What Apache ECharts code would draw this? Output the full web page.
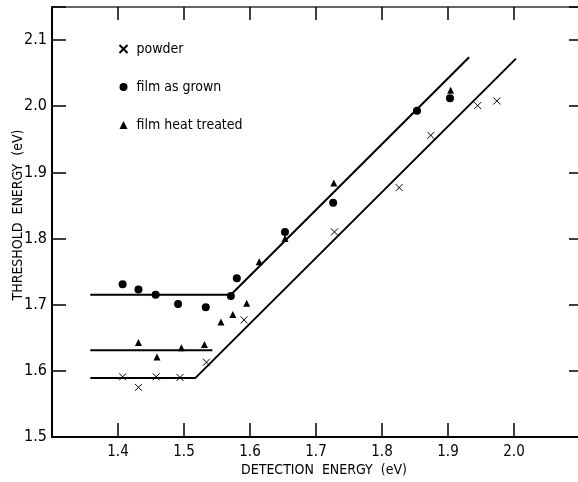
<!DOCTYPE html>
<html>
<head>
<meta charset="UTF-8">
<script src="https://cdn.jsdelivr.net/npm/echarts@6/dist/echarts.min.js"></script>
<style>
  html, body { margin: 0; padding: 0; background: #fff; }
  #chart { width: 578px; height: 482px; }
</style>
</head>
<body>
<div id="chart"></div>
<script>
// data (eV)
var powderX = [1.407, 1.431, 1.458, 1.494, 1.534, 1.591, 1.728, 1.826, 1.874, 1.945, 1.974];
var powderY = [1.591, 1.575, 1.591, 1.590, 1.613, 1.677, 1.810, 1.877, 1.956, 2.001, 2.008];

var grownX = [1.407, 1.431, 1.457, 1.491, 1.533, 1.571, 1.580, 1.653, 1.726, 1.853, 1.903];
var grownY = [1.731, 1.723, 1.715, 1.701, 1.696, 1.713, 1.740, 1.810, 1.854, 1.993, 2.012];

var heatX = [1.431, 1.459, 1.496, 1.531, 1.556, 1.574, 1.595, 1.614, 1.653, 1.727, 1.904];
var heatY = [1.643, 1.621, 1.635, 1.640, 1.674, 1.685, 1.702, 1.765, 1.800, 1.884, 2.024];

// fitted lines (break points)
var powderFitX = [1.358, 1.517, 2.003];
var powderFitY = [1.589, 1.589, 2.072];
var grownFitX = [1.358, 1.571, 1.932];
var grownFitY = [1.715, 1.715, 2.074];
var heatFitX = [1.358, 1.543];
var heatFitY = [1.631, 1.631];

function pairs(xs, ys) {
    return xs.map(function (x, i) { return [x, ys[i]]; });
}

var FONT = "'Liberation Sans Narrow', 'DejaVu Sans Condensed', sans-serif";
var crossPath = 'path://M0,0L10,10M10,0L0,10';

var lineStyle = { color: '#000', width: 2 };
function fit(xs, ys) {
    return {
        type: 'line', data: pairs(xs, ys), symbol: 'none',
        lineStyle: lineStyle, silent: true, z: 1
    };
}

var option = {
    animation: false,
    backgroundColor: '#fff',
    grid: { left: 52, right: -2, top: 7, bottom: 45, outerBoundsMode: 'none', containLabel: false },
    legend: {
        orient: 'vertical', left: 112, top: 37, itemGap: 24,
        itemWidth: 8, itemHeight: 8,
        data: ['powder', 'film as grown', 'film heat treated'],
        textStyle: { fontFamily: FONT, fontSize: 14, color: '#000', padding: [0, 0, 0, 4] }
    },
    xAxis: [{
        type: 'value', min: 1.3, max: 2.1, interval: 0.1,
        name: 'DETECTION  ENERGY  (eV)', nameLocation: 'middle', nameGap: 26,
        nameMoveOverlap: false,
        nameTextStyle: { fontFamily: FONT, fontSize: 14, color: '#000', padding: [0, 0, 0, 16] },
        axisLine: { lineStyle: { color: '#000', width: 2 } },
        axisTick: { inside: true, length: 14, lineStyle: { color: '#000', width: 1.5 } },
        axisLabel: { fontFamily: FONT, fontSize: 15, color: '#000', margin: 8,
            showMinLabel: false, showMaxLabel: false,
            formatter: function (v) { return v.toFixed(1); } },
        splitLine: { show: false }
    }, {
        type: 'value', position: 'top', min: 1.3, max: 2.1, interval: 0.1,
        axisLine: { lineStyle: { color: '#333', width: 1.5 } },
        axisTick: { inside: true, length: 13, lineStyle: { color: '#000', width: 1.5 } },
        axisLabel: { show: false },
        splitLine: { show: false }
    }],
    yAxis: [{
        type: 'value', min: 1.5, max: 2.15, interval: 0.1,
        name: 'THRESHOLD  ENERGY  (eV)', nameLocation: 'middle', nameGap: 27,
        nameMoveOverlap: false,
        nameTextStyle: { fontFamily: FONT, fontSize: 14, color: '#000', padding: [0, 0, 0, 14] },
        axisLine: { lineStyle: { color: '#000', width: 2 } },
        axisTick: { inside: true, length: 14, lineStyle: { color: '#000', width: 1.5 } },
        axisLabel: { fontFamily: FONT, fontSize: 16, color: '#000', margin: 5,
            formatter: function (v) { return v > 2.12 ? '' : v.toFixed(1); } },
        splitLine: { show: false }
    }, {
        type: 'value', position: 'right', min: 1.5, max: 2.15, interval: 0.1,
        axisLine: { show: false },
        axisTick: { inside: true, length: 11, lineStyle: { color: '#000', width: 1.5 } },
        axisLabel: { show: false },
        splitLine: { show: false }
    }],
    series: [
        fit(powderFitX, powderFitY),
        fit(grownFitX, grownFitY),
        fit(heatFitX, heatFitY),
        {
            name: 'powder', type: 'scatter', data: pairs(powderX, powderY),
            symbol: crossPath, symbolSize: 7,
            itemStyle: { color: 'none', borderColor: '#000', borderWidth: 1, opacity: 1 }, z: 3
        },
        {
            name: 'film as grown', type: 'scatter', data: pairs(grownX, grownY),
            symbol: 'circle', symbolSize: 8,
            itemStyle: { color: '#000', opacity: 1 }, z: 3
        },
        {
            name: 'film heat treated', type: 'scatter', data: pairs(heatX, heatY),
            symbol: 'triangle', symbolSize: 7,
            itemStyle: { color: '#000', opacity: 1 }, z: 3
        }
    ]
};

var myChart = echarts.init(document.getElementById('chart'));
myChart.setOption(option);
</script>
</body>
</html>
